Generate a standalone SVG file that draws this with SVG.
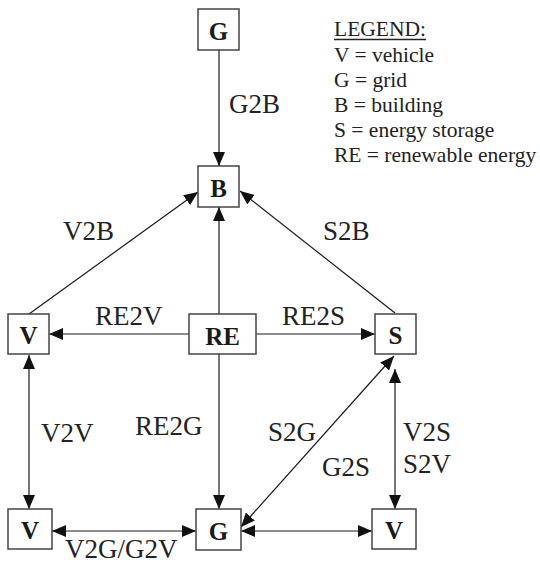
<svg xmlns="http://www.w3.org/2000/svg" width="540" height="564" viewBox="0 0 540 564">
<defs>
<style>
.box{fill:#fff;stroke:#444;stroke-width:1.5}
.nt{font-family:"Liberation Serif","Times New Roman",serif;font-weight:bold;font-size:25px;fill:#1a1a1a;text-anchor:middle}
.lb{font-family:"Liberation Serif","Times New Roman",serif;font-size:27px;fill:#222}
.lg{font-family:"Liberation Serif","Times New Roman",serif;font-size:21.5px;fill:#222}
.cn{stroke:#1a1a1a;stroke-width:1.2;fill:none}
</style>
<marker id="ah" markerUnits="userSpaceOnUse" markerWidth="14" markerHeight="12" refX="14" refY="6" orient="auto-start-reverse" viewBox="0 0 14 12">
<path d="M0,0 L14,6 L0,12 z" fill="#111"/>
</marker>
</defs>
<rect width="540" height="564" fill="#fff"/>

<g id="connectors">
<line class="cn" x1="219" y1="50" x2="219" y2="166" marker-end="url(#ah)"/>
<line class="cn" x1="219" y1="314" x2="219" y2="207" marker-end="url(#ah)"/>
<line class="cn" x1="29" y1="314" x2="198" y2="192" marker-end="url(#ah)"/>
<line class="cn" x1="395" y1="313" x2="240" y2="191" marker-end="url(#ah)"/>
<line class="cn" x1="189" y1="334" x2="49" y2="334" marker-end="url(#ah)"/>
<line class="cn" x1="256" y1="334" x2="375" y2="334" marker-end="url(#ah)"/>
<line class="cn" x1="219" y1="354" x2="219" y2="509" marker-end="url(#ah)"/>
<line class="cn" x1="29" y1="355" x2="29" y2="509" marker-start="url(#ah)" marker-end="url(#ah)"/>
<line class="cn" x1="52" y1="531" x2="196" y2="531" marker-start="url(#ah)" marker-end="url(#ah)"/>
<line class="cn" x1="241" y1="531" x2="372" y2="531" marker-start="url(#ah)" marker-end="url(#ah)"/>
<line class="cn" x1="241" y1="527" x2="394" y2="356" marker-start="url(#ah)" marker-end="url(#ah)"/>
<line class="cn" x1="395" y1="369" x2="395" y2="509" marker-start="url(#ah)" marker-end="url(#ah)"/>
</g>

<g id="node-G-top"><rect class="box" x="198" y="9" width="41" height="41"/><text class="nt" x="218.5" y="40">G</text></g>
<g id="node-B"><rect class="box" x="198" y="166" width="41" height="41"/><text class="nt" x="218.5" y="197">B</text></g>
<g id="node-V-left"><rect class="box" x="8" y="314" width="41" height="40"/><text class="nt" x="28.5" y="344">V</text></g>
<g id="node-RE"><rect class="box" x="189" y="314" width="67" height="40"/><text class="nt" x="222.5" y="345">RE</text></g>
<g id="node-S"><rect class="box" x="375" y="314" width="41" height="40"/><text class="nt" x="395.5" y="344">S</text></g>
<g id="node-V-bottom-left"><rect class="box" x="8" y="509" width="44" height="40"/><text class="nt" x="30" y="539">V</text></g>
<g id="node-G-bottom"><rect class="box" x="196" y="509" width="45" height="41"/><text class="nt" x="218.5" y="540">G</text></g>
<g id="node-V-bottom-right"><rect class="box" x="372" y="509" width="44" height="40"/><text class="nt" x="394" y="539">V</text></g>

<g id="labels">
<text class="lb" x="229" y="113">G2B</text>
<text class="lb" x="63" y="240">V2B</text>
<text class="lb" x="323" y="240">S2B</text>
<text class="lb" x="95" y="325">RE2V</text>
<text class="lb" x="282" y="325">RE2S</text>
<text class="lb" x="41" y="442">V2V</text>
<text class="lb" x="135" y="435">RE2G</text>
<text class="lb" x="268" y="441">S2G</text>
<text class="lb" x="322" y="476">G2S</text>
<text class="lb" x="403" y="441">V2S</text>
<text class="lb" x="403" y="473">S2V</text>
<text class="lb" x="65" y="558">V2G/G2V</text>
</g>

<g id="legend">
<text class="lg" x="334" y="36">LEGEND:</text>
<line x1="334" y1="39.5" x2="426" y2="39.5" stroke="#222" stroke-width="1.5"/>
<text class="lg" x="334" y="62">V = vehicle</text>
<text class="lg" x="334" y="87">G = grid</text>
<text class="lg" x="334" y="112">B = building</text>
<text class="lg" x="334" y="137">S = energy storage</text>
<text class="lg" x="334" y="162">RE = renewable energy</text>
</g>
</svg>
